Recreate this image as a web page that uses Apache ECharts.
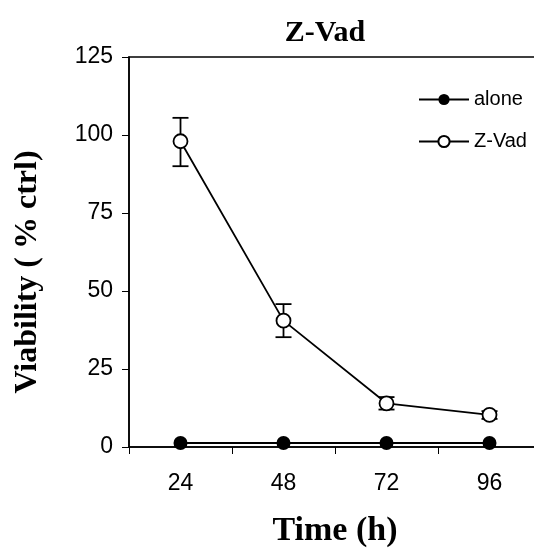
<!DOCTYPE html>
<html>
<head>
<meta charset="utf-8">
<script src="https://cdn.jsdelivr.net/npm/echarts@6/dist/echarts.min.js"></script>
<style>
  html, body { margin: 0; padding: 0; background: #fff; overflow: hidden; }
  #chart { width: 534px; height: 550px; }
</style>
</head>
<body>
<div id="chart"></div>
<script>
// Time points (hours)
const hours = ['24', '48', '72', '96'];
// Viability (% of control), cells treated alone
const aloneValues = [1.3, 1.3, 1.3, 1.3];
// Viability (% of control) with Z-Vad
const zvadValues = [98, 40.5, 14, 10.3];
// Error bar bounds for Z-Vad
const zvadLow = [90, 35.2, 12, 9];
const zvadHigh = [105.5, 45.8, 16, 11.5];
// Y axis ticks
const yMin = 0, yMax = 125, yStep = 25;

const chart = echarts.init(document.getElementById('chart'));

const serif = '"Liberation Serif", "Times New Roman", serif';
const sans = '"Liberation Sans", Arial, sans-serif';

const errorData = hours.map((h, i) => [i, zvadLow[i], zvadHigh[i]]);

chart.setOption({
  animation: false,
  backgroundColor: '#fff',
  title: {
    text: 'Z-Vad',
    left: 320, top: 13, textAlign: 'center',
    textStyle: { fontFamily: serif, fontWeight: 'bold', fontSize: 30, color: '#000' }
  },
  legend: {
    orient: 'vertical',
    left: 413, top: 83,
    itemGap: 19,
    itemWidth: 50, itemHeight: 14,
    textStyle: { fontFamily: sans, fontSize: 20, lineHeight: 23, color: '#000' },
    data: ['alone', 'Z-Vad']
  },
  grid: {
    left: 129, top: 57, width: 412, height: 390,
    outerBoundsMode: 'none',
    containLabel: false,
    show: true, borderColor: '#000', borderWidth: 1.5, backgroundColor: 'transparent'
  },
  xAxis: {
    type: 'category',
    data: hours,
    boundaryGap: true,
    name: 'Time (h)',
    nameLocation: 'middle',
    nameGap: 67,
    nameTextStyle: { fontFamily: serif, fontWeight: 'bold', fontSize: 34, color: '#000' },
    axisLine: { lineStyle: { color: '#000', width: 1.5 } },
    axisTick: { show: true, length: 7, inside: false, lineStyle: { color: '#000', width: 1 } },
    axisLabel: { fontFamily: sans, fontSize: 23, color: '#000', margin: 25, interval: 0 },
    splitLine: { show: false }
  },
  yAxis: {
    type: 'value',
    min: yMin, max: yMax, interval: yStep,
    name: 'Viability ( % ctrl)',
    nameLocation: 'middle',
    nameGap: 85,
    nameTextStyle: { fontFamily: serif, fontWeight: 'bold', fontSize: 32, color: '#000', padding: [0, 40, 0, 0] },
    axisLine: { show: true, lineStyle: { color: '#000', width: 1.5 } },
    axisTick: { show: true, length: 7, lineStyle: { color: '#000', width: 1 } },
    axisLabel: { fontFamily: sans, fontSize: 23, color: '#000', margin: 16 },
    splitLine: { show: false }
  },
  series: [
    {
      name: 'alone',
      type: 'line',
      data: aloneValues,
      symbol: 'circle',
      symbolSize: 14,
      lineStyle: { color: '#000', width: 2 },
      itemStyle: { color: '#000' },
      z: 3
    },
    {
      name: 'Z-Vad',
      type: 'line',
      data: zvadValues,
      symbol: 'circle',
      symbolSize: 14,
      lineStyle: { color: '#000', width: 1.8 },
      itemStyle: { color: '#fff', borderColor: '#000', borderWidth: 1.8 },
      z: 4
    },
    {
      name: 'errors',
      type: 'custom',
      data: errorData,
      z: 3,
      renderItem: function (params, api) {
        const x = api.value(0);
        const lo = api.coord([x, api.value(1)]);
        const hi = api.coord([x, api.value(2)]);
        const half = 8;
        const style = { stroke: '#000', lineWidth: 1.8 };
        return {
          type: 'group',
          children: [
            { type: 'line', shape: { x1: hi[0], y1: hi[1], x2: lo[0], y2: lo[1] }, style },
            { type: 'line', shape: { x1: hi[0] - half, y1: hi[1], x2: hi[0] + half, y2: hi[1] }, style },
            { type: 'line', shape: { x1: lo[0] - half, y1: lo[1], x2: lo[0] + half, y2: lo[1] }, style }
          ]
        };
      }
    }
  ]
});
</script>
</body>
</html>
